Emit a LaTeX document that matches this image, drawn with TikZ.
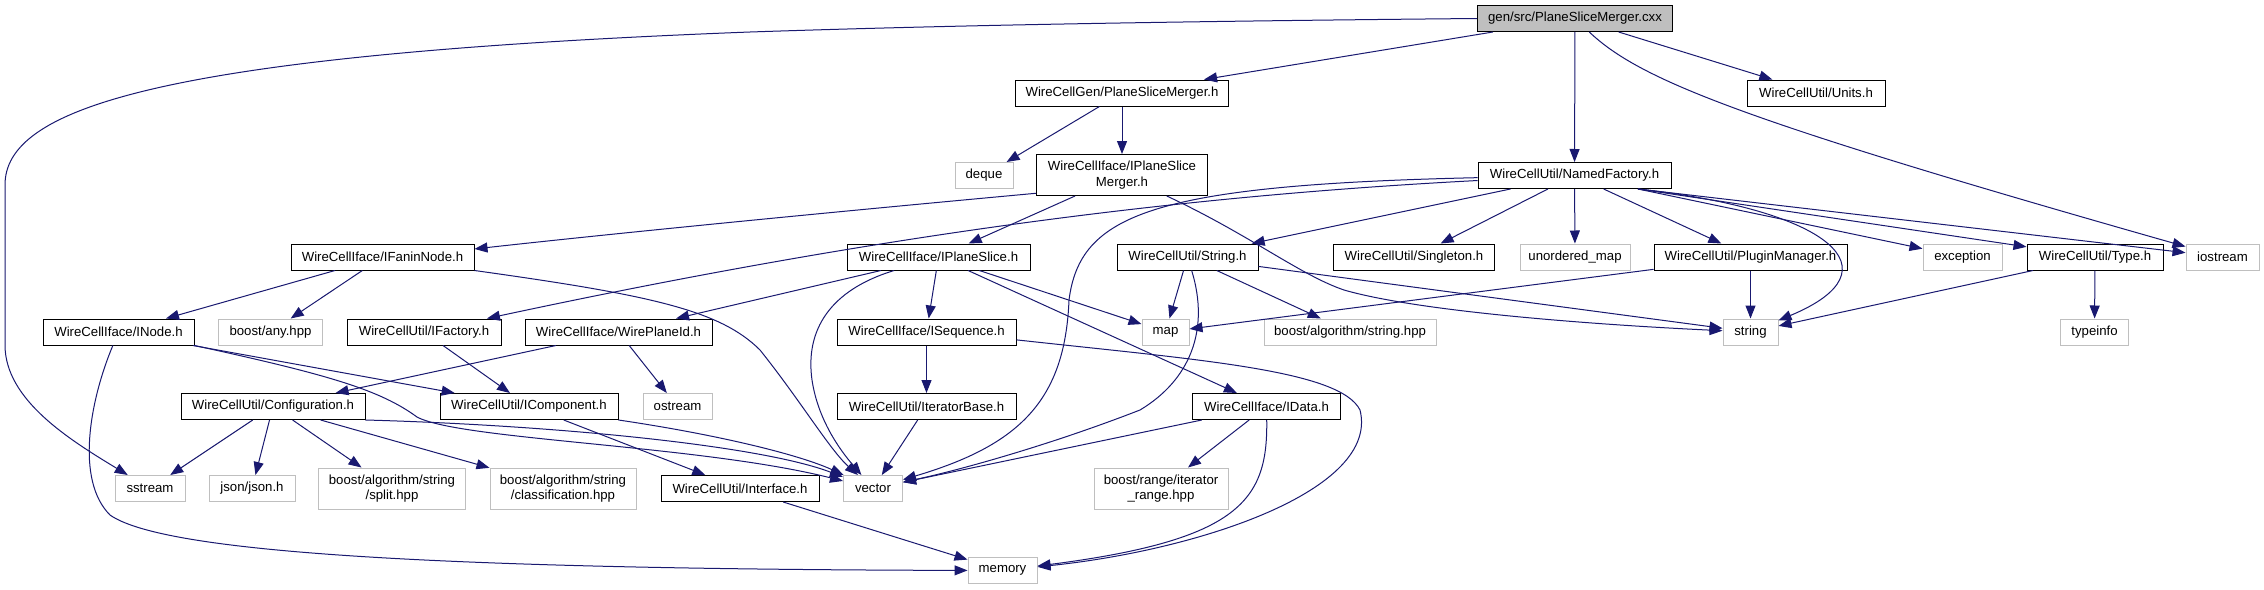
\documentclass[tikz,border=0pt]{standalone}
\usepackage{fontspec}
\setmainfont{Liberation Sans}
\usetikzlibrary{arrows.meta}
\definecolor{edgeblue}{HTML}{191970}
\definecolor{sysgray}{HTML}{BFBFBF}
\begin{document}
\begin{tikzpicture}[x=1pt,y=-1pt,
  box/.style={draw, line width=1pt, fill=white, inner sep=0pt, minimum height=26pt,
    font=\fontsize{13.2}{15.7}\selectfont, align=center},
  doc/.style={box, draw=black},
  sys/.style={box, draw=sysgray},
  two/.style={minimum height=41pt},
  wd/.style={minimum width=#1pt},
  e/.style={draw=edgeblue, line width=1pt, -{Triangle[length=13pt,width=10pt]}}]
\fill[white] (0,0) rectangle (2264,589);
\useasboundingbox (0,0) rectangle (2264,589);
% rank 0
\node[doc,wd=195,fill=sysgray] (root) at (1575,18.5) {gen/src/PlaneSliceMerger.cxx};
% rank 1
\node[doc,wd=213] (psm) at (1122,93) {WireCellGen/PlaneSliceMerger.h};
\node[doc,wd=138] (units) at (1816,93) {WireCellUtil/Units.h};
% rank 2
\node[sys,wd=58] (deque) at (984,175.5) {deque};
\node[doc,wd=171,two] (ipsm) at (1122,175) {WireCellIface/IPlaneSlice\\Merger.h};
\node[doc,wd=193] (nf) at (1574.5,175.5) {WireCellUtil/NamedFactory.h};
% rank 3
\node[doc,wd=183] (ifanin) at (382.5,257) {WireCellIface/IFaninNode.h};
\node[doc,wd=183] (ips) at (938.5,257) {WireCellIface/IPlaneSlice.h};
\node[doc,wd=141] (strh) at (1187.5,257) {WireCellUtil/String.h};
\node[doc,wd=161] (single) at (1414,257) {WireCellUtil/Singleton.h};
\node[sys,wd=110] (umap) at (1575,257) {unordered\_map};
\node[doc,wd=193] (plugin) at (1750.5,257) {WireCellUtil/PluginManager.h};
\node[sys,wd=79] (except) at (1962.5,257) {exception};
\node[doc,wd=136] (type) at (2095,257) {WireCellUtil/Type.h};
\node[sys,wd=73] (iostream) at (2222.5,257) {iostream};
% rank 4
\node[doc,wd=151] (inode) at (118.5,332) {WireCellIface/INode.h};
\node[sys,wd=104] (any) at (270.5,332) {boost/any.hpp};
\node[doc,wd=154] (ifactory) at (424,332) {WireCellUtil/IFactory.h};
\node[doc,wd=187] (wpid) at (618.5,332) {WireCellIface/WirePlaneId.h};
\node[doc,wd=179] (iseq) at (926.5,332) {WireCellIface/ISequence.h};
\node[sys,wd=47] (map) at (1165.5,332) {map};
\node[sys,wd=172] (bas) at (1350,332) {boost/algorithm/string.hpp};
\node[sys,wd=55] (string) at (1750.5,332) {string};
\node[sys,wd=68] (typeinfo) at (2094.5,332) {typeinfo};
% rank 5
\node[doc,wd=184] (config) at (273,406.5) {WireCellUtil/Configuration.h};
\node[doc,wd=178] (icomp) at (529,406.5) {WireCellUtil/IComponent.h};
\node[sys,wd=69] (ostream) at (677.5,406.5) {ostream};
\node[doc,wd=179] (itbase) at (926.5,406.5) {WireCellUtil/IteratorBase.h};
\node[doc,wd=148] (idata) at (1266.5,406.5) {WireCellIface/IData.h};
% rank 6
\node[sys,wd=70] (sstream) at (150,488.5) {sstream};
\node[sys,wd=86] (json) at (252,488.5) {json/json.h};
\node[sys,wd=147,two] (split) at (392,488.5) {boost/algorithm/string\\/split.hpp};
\node[sys,wd=146,two] (classif) at (563,488.5) {boost/algorithm/string\\/classification.hpp};
\node[doc,wd=158] (iface) at (740,488.5) {WireCellUtil/Interface.h};
\node[sys,wd=59] (vector) at (873,488.5) {vector};
\node[sys,wd=134,two] (brange) at (1161,488.5) {boost/range/iterator\\\_range.hpp};
% rank 7
\node[sys,wd=69] (memory) at (1002.5,570.5) {memory};

% edges from root
\draw[e] (root) -- (psm);
\draw[e] (root) -- (nf);
\draw[e] (root) -- (units);
\draw[e] (root) .. controls (1640,80) and (1740,120) .. (iostream);
\draw[e] (root.west) .. controls (1100,22) and (900,27) .. (750,32)
  .. controls (150,55) and (5,110) .. (5,185) -- (5,345)
  .. controls (5,400) and (70,440) .. (sstream);
% PlaneSliceMerger.h
\draw[e] (psm) -- (deque);
\draw[e] (psm) -- (ipsm);
% IPlaneSliceMerger.h
\draw[e] (ipsm.192) .. controls (800,215) and (600,235) .. (ifanin.5);
\draw[e] (ipsm) -- (ips);
\draw[e] (ipsm) .. controls (1250,235) and (1300,275) .. (1344,290)
  .. controls (1420,312) and (1600,325) .. (string);
% NamedFactory.h
\draw[e] (nf) .. controls (1200,195) and (900,230) .. (ifactory);
\draw[e] (nf) .. controls (1150,185) and (1080,215) .. (1069,300)
  .. controls (1065,400) and (1020,445) .. (vector);
\draw[e] (nf) -- (strh);
\draw[e] (nf) -- (single);
\draw[e] (nf) -- (umap);
\draw[e] (nf) -- (plugin);
\draw[e] (nf.-12) -- (except);
\draw[e] (nf.-12) -- (type);
\draw[e] (nf.-12) -- (iostream);
\draw[e] (nf.-12) .. controls (1830,210) and (1900,270) .. (string);
% PluginManager.h, Type.h
\draw[e] (plugin) -- (map);
\draw[e] (plugin) -- (string);
\draw[e] (type) -- (string);
\draw[e] (type) -- (typeinfo);
% IFaninNode.h
\draw[e] (ifanin) -- (inode);
\draw[e] (ifanin) -- (any);
\draw[e] (ifanin.south east) .. controls (650,295) and (720,310) .. (760,350)
  .. controls (800,400) and (830,450) .. (vector);
% IPlaneSlice.h
\draw[e] (ips) -- (wpid);
\draw[e] (ips) .. controls (830,290) and (805,330) .. (812,380)
  .. controls (818,420) and (840,450) .. (vector);
\draw[e] (ips) -- (iseq);
\draw[e] (ips) -- (map);
\draw[e] (ips) -- (idata);
% String.h
\draw[e] (strh) -- (map);
\draw[e] (strh) .. controls (1210,330) and (1190,380) .. (1140,410)
  .. controls (1050,445) and (960,470) .. (vector);
\draw[e] (strh) -- (bas);
\draw[e] (strh) -- (string);
% INode.h
\draw[e] (inode) .. controls (90,400) and (75,480) .. (110,515)
  .. controls (160,550) and (400,569) .. (memory);
\draw[e] (inode) -- (icomp);
\draw[e] (inode.south east) .. controls (330,375) and (380,390) .. (417,417)
  .. controls (460,440) and (700,445) .. (vector);
% IFactory.h, WirePlaneId.h
\draw[e] (ifactory) -- (icomp);
\draw[e] (wpid) -- (config);
\draw[e] (wpid) -- (ostream);
% Configuration.h
\draw[e] (config) -- (sstream);
\draw[e] (config) -- (json);
\draw[e] (config) -- (split);
\draw[e] (config) -- (classif);
\draw[e] (config.south east) .. controls (550,425) and (760,445) .. (vector);
% IComponent.h
\draw[e] (icomp) -- (iface);
\draw[e] (icomp.south east) .. controls (720,435) and (800,455) .. (vector);
% ISequence.h, IteratorBase.h
\draw[e] (iseq) -- (itbase);
\draw[e] (iseq.-5) .. controls (1200,360) and (1340,370) .. (1360,410)
  .. controls (1380,490) and (1200,550) .. (memory);
\draw[e] (itbase) -- (vector);
% IData.h
\draw[e] (idata) -- (vector);
\draw[e] (idata) -- (brange);
\draw[e] (idata) .. controls (1268,500) and (1240,540) .. (memory);
% Interface.h
\draw[e] (iface) -- (memory);
\end{tikzpicture}
\end{document}
